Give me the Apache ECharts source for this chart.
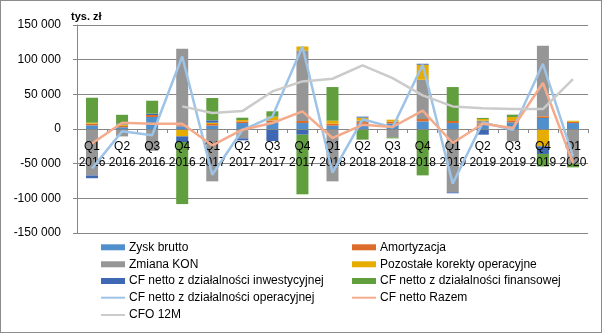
<!DOCTYPE html>
<html>
<head>
<meta charset="utf-8">
<script src="https://cdn.jsdelivr.net/npm/echarts@6/dist/echarts.min.js"></script>
<style>
  html, body { margin: 0; padding: 0; background: #fff; }
  #frame { position: absolute; left: 0; top: 0; width: 602px; height: 333px; box-sizing: border-box; border: 1px solid #8c8c8c; }
  #chart { position: absolute; left: 0; top: 0; width: 602px; height: 333px; }
</style>
</head>
<body>
<div id="chart"></div>
<div id="frame"></div>
<script>
// ---- data (tys. zł) ----
const categories = ['Q1 2016','Q2 2016','Q3 2016','Q4 2016','Q1 2017','Q2 2017','Q3 2017','Q4 2017','Q1 2018','Q2 2018','Q3 2018','Q4 2018','Q1 2019','Q2 2019','Q3 2019','Q4 2019','Q1 2020'];
const zyskBrutto   = [5300, 2500, 17300, 3800, 4800, 8600, 9600, 8600, 4800, 7000, 8000, 11000, 8600, 6000, 9600, 15900, 8600];
const amortyzacja  = [2400, 2000, 2900, 1500, 2400, 2400, 2400, 2900, 2900, 2900, 2500, 3400, 2900, 2000, 2900, 2400, 1900];
const zmianaKON    = [-67000, -10700, -31500, 110500, -75500, -13500, 500, 101300, -75500, 2000, -12000, 56700, -91300, 4000, -17800, 101700, -50400];
const pozostale    = [1400, 2000, 0, -10600, 1900, 1900, 5300, 6200, 4300, 4500, 3000, 21600, 0, 2500, 4800, -25000, 1400];
const cfInwest     = [-4000, 1500, 1900, -8200, 3400, -2900, -17300, -8200, 0, 1400, 0, 1400, -1400, -8200, 0, -11000, 0];
const cfFinans     = [36000, 12500, 18700, -89500, 32200, 3400, 7700, -86000, 48500, -15400, -1500, -66900, 49000, 1500, 3400, -18000, -4900];
const cfOperac     = [-57000, -3400, -9000, 104600, -66000, -1500, 18000, 119000, -63000, 14000, 2300, 92700, -78800, 9500, -1000, 94000, -39500];
const cfRazem      = [-21000, 9000, 7600, 7600, -23500, -1000, 8600, 25400, -13000, 6000, 2900, 26400, -20200, 7600, 1400, 66300, -49000];
const cfo12M       = [null, null, null, 32600, 23000, 25800, 54200, 68600, 72500, 91700, 73400, 48400, 32600, 30000, 28800, 28800, 72000];
const yTicks = { min: -150000, max: 150000, step: 50000 };

const names = {
  zysk: 'Zysk brutto', amort: 'Amortyzacja', kon: 'Zmiana KON', poz: 'Pozostałe korekty operacyjne',
  inw: 'CF netto z działalności inwestycyjnej', fin: 'CF netto z działalności finansowej',
  ope: 'CF netto z działalności operacyjnej', raz: 'CF netto Razem', c12: 'CFO 12M'
};
const colors = {
  zysk: '#4f8fcc', amort: '#dc6c2a', kon: '#969696', poz: '#e6ac00',
  inw: '#3f68b4', fin: '#609e3e', ope: '#9dc3e6', raz: '#f4ab8c', c12: '#cbcbcb'
};
const FONT = "'Liberation Sans', Arial, sans-serif";

function fmt(v) {
  const s = String(Math.abs(v)).replace(/\B(?=(\d{3})+(?!\d))/g, ' ');
  return (v < 0 ? '-' : '') + s;
}

function bar(key, data) {
  return { name: names[key], type: 'bar', stack: 'cf', data: data, barWidth: 12,
    itemStyle: { color: colors[key] }, z: 2 };
}
function line(key, data) {
  return { name: names[key], type: 'line', data: data, symbol: 'none', showSymbol: false,
    lineStyle: { color: colors[key], width: 2.5 }, itemStyle: { color: colors[key] }, z: 4 };
}

function legend(key, left, center, isLine) {
  const h = isLine ? 2 : 6;
  return {
    data: [{ name: names[key], icon: 'rect' }],
    left: left, top: center - 7, padding: 0, itemWidth: 24, itemHeight: h, itemGap: 0,
    selectedMode: false,
    textStyle: { fontFamily: FONT, fontSize: 12, color: '#000', lineHeight: 14, padding: [0, 0, 0, -1] }
  };
}

const GRID_TOP = 25, GRID_BOTTOM = 100, H = 333;
const plotH = H - GRID_TOP - GRID_BOTTOM;
// distance from the bottom of the grid to the zero line (values symmetric around 0)
const zeroOffset = -plotH * (0 - yTicks.min) / (yTicks.max - yTicks.min);

const rows = [247.3, 264.3, 281, 297.7, 315];
const chart = echarts.init(document.getElementById('chart'), null, { renderer: 'canvas' });
chart.setOption({
  animation: false,
  backgroundColor: '#fff',
  textStyle: { fontFamily: FONT },
  title: { text: 'tys. zł', left: 66, top: 6, textStyle: { fontFamily: FONT, fontSize: 11, fontWeight: 'bold', color: '#000' } },
  grid: { left: 77, right: 14, top: GRID_TOP, bottom: GRID_BOTTOM, containLabel: false },
  legend: [
    legend('zysk', 101, rows[0], false),
    legend('amort', 352, rows[0], false),
    legend('kon', 101, rows[1], false),
    legend('poz', 352, rows[1], false),
    legend('inw', 101, rows[2], false),
    legend('fin', 352, rows[2], false),
    legend('ope', 101, rows[3], true),
    legend('raz', 352, rows[3], true),
    legend('c12', 101, rows[4], true)
  ],
  xAxis: {
    type: 'category', data: categories, boundaryGap: true, z: 3,
    position: 'bottom', offset: zeroOffset,
    axisLine: { onZero: false, lineStyle: { color: '#868686', width: 1 } },
    axisTick: { show: true, length: 4, lineStyle: { color: '#868686' } },
    axisLabel: { interval: 0, fontSize: 12, lineHeight: 16.5, color: '#000', margin: 9, fontFamily: FONT,
      formatter: v => v.replace(' ', '\n') },
    splitLine: { show: false }
  },
  yAxis: {
    type: 'value', min: yTicks.min, max: yTicks.max, interval: yTicks.step,
    axisLine: { show: true, lineStyle: { color: '#868686' } },
    axisTick: { show: true, length: 4, lineStyle: { color: '#868686' } },
    axisLabel: { fontSize: 12, color: '#000', margin: 16, fontFamily: FONT, formatter: fmt },
    splitLine: { show: true, lineStyle: { color: '#868686', width: 1 } }
  },
  series: [
    bar('zysk', zyskBrutto),
    bar('amort', amortyzacja),
    bar('kon', zmianaKON),
    bar('poz', pozostale),
    bar('inw', cfInwest),
    bar('fin', cfFinans),
    line('ope', cfOperac),
    line('raz', cfRazem),
    line('c12', cfo12M)
  ]
});
</script>
</body>
</html>
